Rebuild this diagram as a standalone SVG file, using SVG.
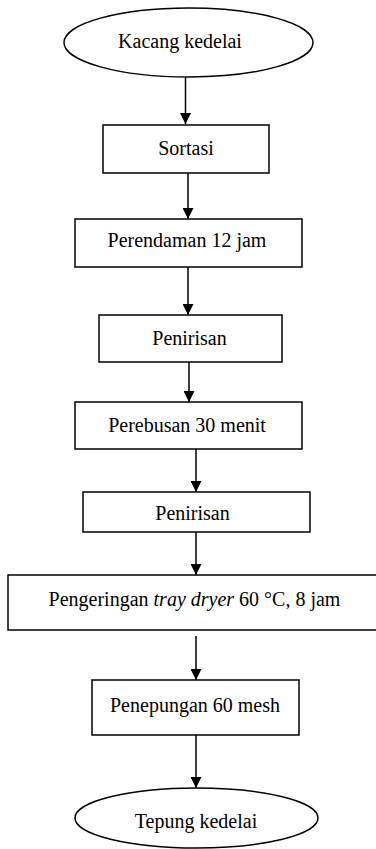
<svg xmlns="http://www.w3.org/2000/svg" width="376" height="849" viewBox="0 0 376 849">
<defs>
<style>
.n{fill:#fff;stroke:#000;stroke-width:1.5}
.t{font-family:"Liberation Serif","Times New Roman",serif;font-size:20px;fill:#000;text-anchor:middle}
.c{stroke:#000;stroke-width:1.5;fill:none}
</style>
<marker id="ah" markerUnits="userSpaceOnUse" markerWidth="11" markerHeight="11" refX="11" refY="5.5" orient="auto">
<path d="M0,0 L11,5.5 L0,11 z" fill="#000"/>
</marker>
</defs>
<rect width="376" height="849" fill="#fff"/>
<g id="connectors">
<line class="c" x1="185.5" y1="77" x2="185.5" y2="124" marker-end="url(#ah)"/>
<line class="c" x1="188" y1="173" x2="188" y2="219" marker-end="url(#ah)"/>
<line class="c" x1="188" y1="267" x2="188" y2="315" marker-end="url(#ah)"/>
<line class="c" x1="189" y1="362" x2="189" y2="402" marker-end="url(#ah)"/>
<line class="c" x1="196" y1="449" x2="196" y2="492" marker-end="url(#ah)"/>
<line class="c" x1="196" y1="532" x2="196" y2="575" marker-end="url(#ah)"/>
<line class="c" x1="196" y1="636" x2="196" y2="680" marker-end="url(#ah)"/>
<line class="c" x1="196" y1="735" x2="196" y2="788" marker-end="url(#ah)"/>
</g>
<g id="n1"><ellipse class="n" cx="188.5" cy="42.5" rx="124.5" ry="34.5"/><text class="t" x="180" y="48">Kacang kedelai</text></g>
<g id="n2"><rect class="n" x="103" y="125" width="166" height="48"/><text class="t" x="186" y="155">Sortasi</text></g>
<g id="n3"><rect class="n" x="75" y="219" width="227" height="48"/><text class="t" x="187" y="247">Perendaman 12 jam</text></g>
<g id="n4"><rect class="n" x="99" y="315" width="183" height="47"/><text class="t" x="189.5" y="345">Penirisan</text></g>
<g id="n5"><rect class="n" x="75" y="402" width="227" height="47"/><text class="t" x="187" y="432">Perebusan 30 menit</text></g>
<g id="n6"><rect class="n" x="83" y="492" width="227" height="40"/><text class="t" x="192.5" y="520">Penirisan</text></g>
<g id="n7"><rect class="n" x="8" y="575" width="374" height="55"/><text class="t" x="194.5" y="606">Pengeringan <tspan font-style="italic">tray dryer</tspan> 60 °C, 8 jam</text></g>
<g id="n8"><rect class="n" x="92" y="680" width="207" height="55"/><text class="t" x="195" y="712">Penepungan 60 mesh</text></g>
<g id="n9"><ellipse class="n" cx="196.5" cy="818" rx="121.5" ry="30"/><text class="t" x="196" y="828">Tepung kedelai</text></g>
</svg>
